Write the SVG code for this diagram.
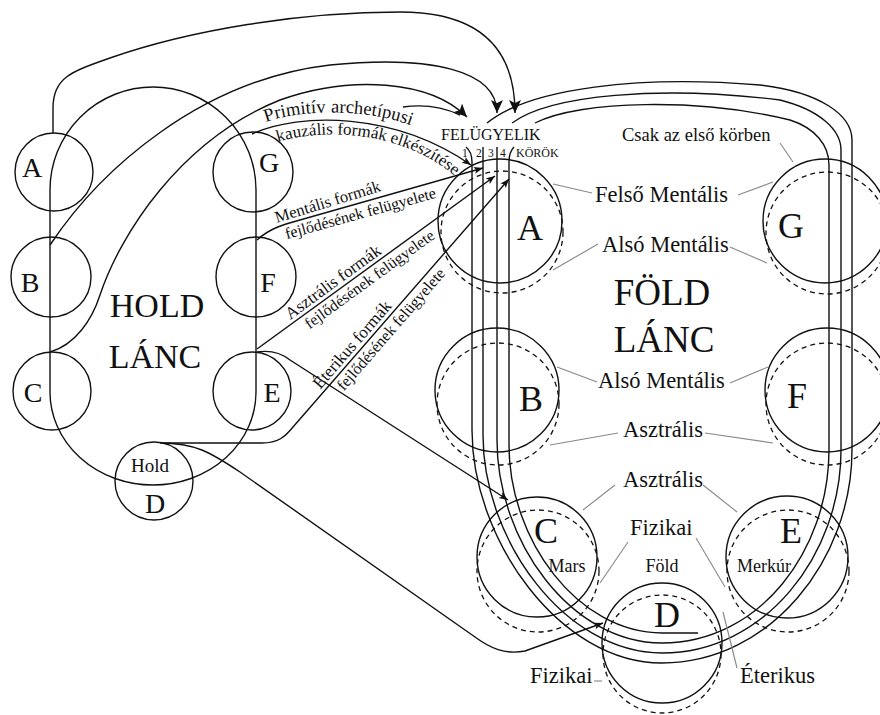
<svg xmlns="http://www.w3.org/2000/svg" width="880" height="715" viewBox="0 0 880 715">
<defs>
<style>
.t{font-family:"Liberation Serif","DejaVu Serif","Times New Roman",serif;fill:#111}
.ln{fill:none;stroke:#111;stroke-width:1.4}
.sc{fill:none;stroke:#111;stroke-width:1.4}
.dc{fill:none;stroke:#111;stroke-width:1.3;stroke-dasharray:5 4}
.ld{fill:none;stroke:#888;stroke-width:1.1}
.hl{font-size:28px}
.el{font-size:36px}
.lb{font-size:22.5px}
.rt{font-size:16px}
.rf{font-size:17px}
.p1{font-size:18.5px}
.p2{font-size:17px}
</style>
<marker id="ab" markerUnits="userSpaceOnUse" markerWidth="14" markerHeight="12" refX="13" refY="6" orient="auto"><path d="M0,0 L13,6 L0,12 L3,6 z" fill="#111"/></marker>
<marker id="as" markerUnits="userSpaceOnUse" markerWidth="10" markerHeight="8" refX="9" refY="3.5" orient="auto"><path d="M0,0 L9,3.5 L0,7 L2,3.5 z" fill="#111"/></marker>
<path id="tp1" d="M266,122 C300,109 380,107 425,132"/>
<path id="tp2" d="M278,142 C324,128 400,130 455,176"/>
</defs>
<rect width="880" height="715" fill="#fff"/>

<g id="connectors">
<!-- Hold chain outline -->
<path class="ln" d="M50,392 V190 A103,103 0 0 1 256,190 V392 A103,93 0 0 1 50,392 Z"/>
<!-- arcs from Hold A, B, C to FELÜGYELIK -->
<path class="ln" marker-end="url(#ab)" d="M53,133 L53,108 C53,78 70,72 110,58 C190,30 300,12 400,12 C470,12 515,40 515,113"/>
<path class="ln" marker-end="url(#ab)" d="M50,245 C100,170 200,80 330,65 C430,55 497,70 497,113"/>
<path class="ln" marker-end="url(#ab)" d="M50,352 C75,345 92,320 100,295 C120,235 180,140 280,100 C350,75 430,80 467,117"/>
<path class="ln" d="M403,107 C425,104 445,108 460,115"/>
<!-- supervision lines -->
<path class="ln" marker-end="url(#as)" d="M252,134 C300,112 395,112 471,165"/>
<path class="ln" marker-end="url(#as)" d="M257,240 C270,228 285,224 300,220 L483,168"/>
<path class="ln" marker-end="url(#as)" d="M257,349 L495,176"/>
<path class="ln" marker-end="url(#as)" d="M163,443 L262,443 C278,443 285,437 293,427 L509,179"/>
<!-- Hold E to Earth C, Hold D to Earth D -->
<path class="ln" marker-end="url(#as)" d="M257,352 C270,350 280,352 290,360 L508,500"/>
<path class="ln" marker-end="url(#as)" d="M160,443 C195,443 210,452 240,472 L475,637 C490,648 505,655 525,651 L603,623"/>
<!-- Earth chain rounds -->
<path class="ln" d="M466,147 Q472,152 472,162 V430 C472,540 560,663 662,663 C770,663 852,560 852,450 V140 C852,115 820,92 760,85 C640,75 530,88 487,123"/>
<path class="ln" d="M483,147 V435 C483,540 565,653 662,653 C765,653 841,555 841,450 V150 C841,130 820,110 780,100 C660,85 550,95 512,123"/>
<path class="ln" d="M497,147 V440 C497,540 570,643 662,643 C760,643 829,550 829,450 V165 C829,145 815,128 790,120 C700,98 580,100 535,123"/>
<path class="ln" d="M514,147 Q509,152 509,162 V445 C509,540 578,633 662,633 L698,633"/>
<!-- leader lines -->
<path class="ld" d="M780,143 L793,162"/>
<path class="ld" d="M553,184 L592,193 M738,195 L773,182"/>
<path class="ld" d="M598,244 L553,270 M730,247 L767,263"/>
<path class="ld" d="M557,367 L597,382 M730,383 L768,367"/>
<path class="ld" d="M618,433 L550,445 M705,433 L773,443"/>
<path class="ld" d="M615,485 L583,510 M703,485 L737,512"/>
<path class="ld" d="M628,542 L600,583 M696,538 L725,587"/>
<path class="ld" d="M723,612 L737,668"/>
<path class="ld" d="M594,681 L602,681"/>
</g>

<g id="hold-chain">
<text class="t" x="157" y="317" font-size="34" text-anchor="middle">HOLD</text>
<text class="t" x="155" y="368" font-size="34" text-anchor="middle">LÁNC</text>
</g>
<g id="hold-A"><circle class="sc" cx="54" cy="172" r="39"/><text class="t hl" x="32" y="177" text-anchor="middle">A</text></g>
<g id="hold-G"><circle class="sc" cx="253" cy="172" r="40"/><text class="t hl" x="269" y="172" text-anchor="middle">G</text></g>
<g id="hold-B"><circle class="sc" cx="51" cy="277" r="40"/><text class="t hl" x="30" y="292" text-anchor="middle">B</text></g>
<g id="hold-F"><circle class="sc" cx="256" cy="277" r="40"/><text class="t hl" x="268" y="292" text-anchor="middle">F</text></g>
<g id="hold-C"><circle class="sc" cx="52" cy="391" r="39"/><text class="t hl" x="33" y="402" text-anchor="middle">C</text></g>
<g id="hold-E"><circle class="sc" cx="252" cy="391" r="39"/><text class="t hl" x="272" y="402" text-anchor="middle">E</text></g>
<g id="hold-D"><circle class="sc" cx="154" cy="481" r="39"/><text class="t" x="150" y="472" font-size="19" text-anchor="middle">Hold</text><text class="t hl" x="155" y="513" text-anchor="middle">D</text></g>

<g id="supervision-labels">
<text class="t p1"><textPath href="#tp1">Primitív</textPath></text>
<text class="t p1"><textPath href="#tp1" startOffset="66">archetípusi</textPath></text>
<text class="t p2"><textPath href="#tp2">kauzális</textPath></text>
<text class="t p2"><textPath href="#tp2" startOffset="60">formák</textPath></text>
<text class="t p2"><textPath href="#tp2" startOffset="113">elkészítése</textPath></text>
<g transform="translate(300,220) rotate(-17)"><text class="t" font-size="16.5" x="-23" y="-4">Mentális formák</text></g>
<g transform="translate(300,220) rotate(-15.5)"><text class="t rt" x="-18" y="15">fejlődésének felügyelete</text></g>
<g transform="translate(257,349) rotate(-36)"><text class="t rf" x="44" y="-4">Asztrális formák</text></g>
<g transform="translate(257,349) rotate(-36)"><text class="t rt" x="54" y="15">fejlődésének felügyelete</text></g>
<g transform="translate(293,427) rotate(-49)"><text class="t rf" x="46" y="-4">Éterikus formák</text></g>
<g transform="translate(293,427) rotate(-49)"><text class="t rt" x="60" y="15">fejlődésének felügyelete</text></g>
<text class="t" x="441" y="140" font-size="16">FELÜGYELIK</text>
<text class="t" x="462" y="157" font-size="11.5">1</text>
<text class="t" x="476" y="157" font-size="11.5">2</text>
<text class="t" x="488" y="157" font-size="11.5">3</text>
<text class="t" x="500" y="157" font-size="11.5">4</text>
<text class="t" x="516" y="157" font-size="12">KÖRÖK</text>
</g>

<g id="earth-chain">
<text class="t" x="662" y="305" font-size="37" text-anchor="middle">FÖLD</text>
<text class="t" x="664" y="352" font-size="37" text-anchor="middle">LÁNC</text>
</g>
<g id="earth-A"><circle class="sc" cx="500" cy="221" r="62"/><circle class="dc" cx="502" cy="232" r="61"/><text class="t el" x="530" y="240" text-anchor="middle">A</text></g>
<g id="earth-G"><circle class="sc" cx="825" cy="221" r="62"/><circle class="dc" cx="827" cy="233" r="61"/><text class="t el" x="791" y="238" text-anchor="middle">G</text></g>
<g id="earth-B"><circle class="sc" cx="497" cy="390" r="62"/><circle class="dc" cx="498" cy="404" r="61"/><text class="t el" x="531" y="411" text-anchor="middle">B</text></g>
<g id="earth-F"><circle class="sc" cx="827" cy="390" r="62"/><circle class="dc" cx="827" cy="404" r="61"/><text class="t el" x="797" y="408" text-anchor="middle">F</text></g>
<g id="earth-C"><circle class="sc" cx="537" cy="557" r="60"/><circle class="dc" cx="538" cy="571" r="61"/><text class="t el" x="546" y="543" text-anchor="middle">C</text><text class="t" x="567" y="572" font-size="18" text-anchor="middle">Mars</text></g>
<g id="earth-E"><circle class="sc" cx="787" cy="557" r="61"/><circle class="dc" cx="788" cy="571" r="61"/><text class="t el" x="791" y="543" text-anchor="middle">E</text><text class="t" x="764" y="572" font-size="18" text-anchor="middle">Merkúr</text></g>
<g id="earth-D"><circle class="sc" cx="662" cy="643" r="60"/><circle class="dc" cx="662" cy="654" r="59"/><text class="t el" x="667" y="627" text-anchor="middle">D</text><text class="t" x="662" y="572" font-size="18" text-anchor="middle">Föld</text></g>

<g id="plane-labels">
<text class="t" x="622" y="141" font-size="18.5">Csak az első körben</text>
<text class="t lb" x="595" y="202">Felső Mentális</text>
<text class="t lb" x="602" y="252">Alsó Mentális</text>
<text class="t lb" x="598" y="388">Alsó Mentális</text>
<text class="t lb" x="623" y="437">Asztrális</text>
<text class="t lb" x="623" y="487">Asztrális</text>
<text class="t lb" x="630" y="535">Fizikai</text>
<text class="t lb" x="530" y="683">Fizikai</text>
<text class="t lb" x="740" y="683">Éterikus</text>
</g>
</svg>
